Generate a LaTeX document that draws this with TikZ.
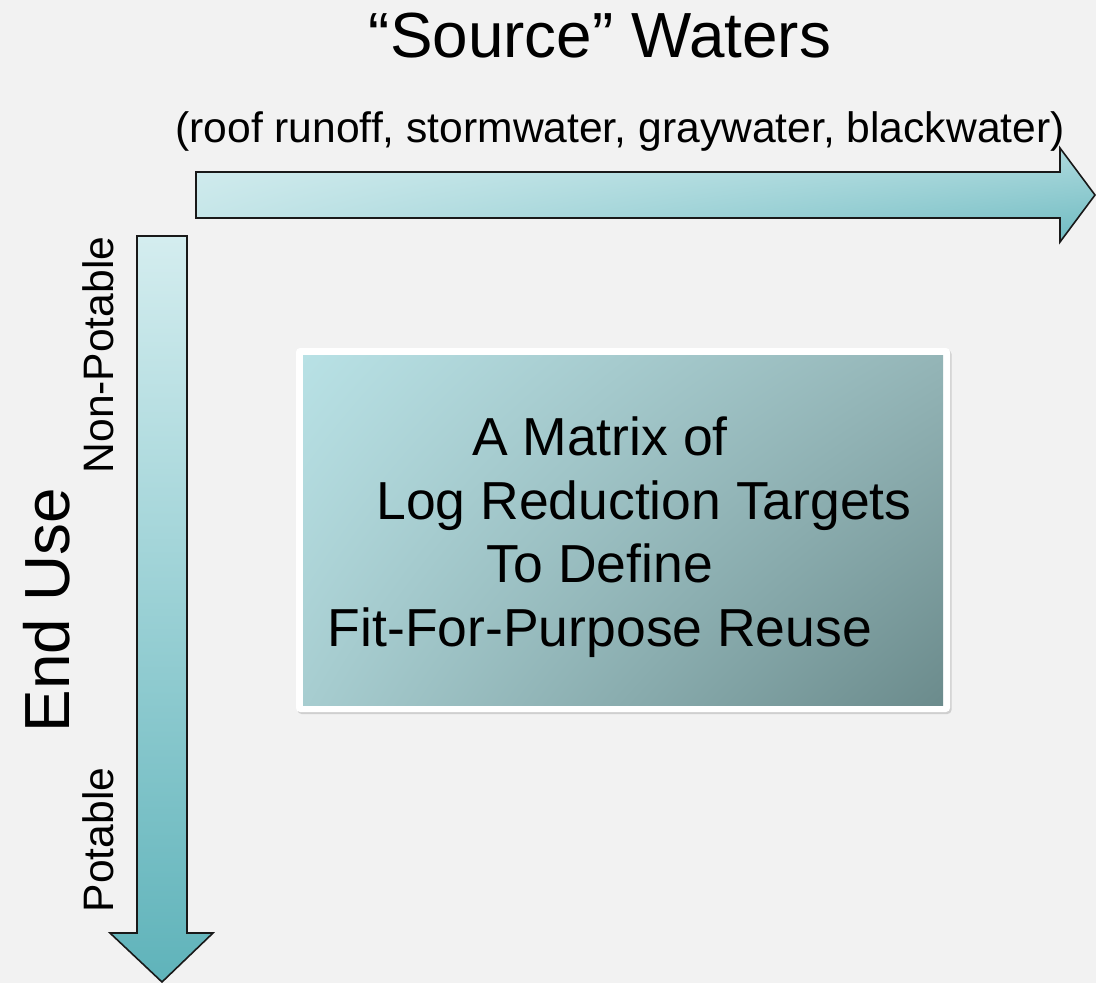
\documentclass[tikz,border=0pt]{standalone}
\usepackage{fontspec}
\setmainfont{Liberation Sans}
\usetikzlibrary{shadows,shadings}

\definecolor{pagebg}{HTML}{F2F2F2}
\definecolor{arrowlight}{HTML}{D4EDEF}
\definecolor{arrowmid}{HTML}{C0E3E6}
\definecolor{arrowdark}{HTML}{5FB3BA}
\definecolor{boxul}{HTML}{B8E1E5}
\definecolor{boxur}{HTML}{94B5B7}
\definecolor{boxll}{HTML}{A7CDD0}
\definecolor{boxlr}{HTML}{6B8B8C}

\begin{document}
\begin{tikzpicture}[x=1pt, y=-1pt]
                \tikzset{bigtext/.style={font=\fontsize{63.8}{70}\selectfont, inner sep=0pt},
                smalltext/.style={font=\fontsize{42.6}{48}\selectfont, inner sep=0pt},
                fatarrow/.style={draw=black!90, line width=1.6pt, line join=miter}}

                \fill[pagebg] (0,0) rectangle (1096,983);
                \useasboundingbox (0,0) rectangle (1096,983);

                \shade[fatarrow, upper left=arrowlight, lower left=arrowmid!95!arrowlight, upper right=arrowmid!80!arrowdark, lower right=arrowdark!85!arrowmid] (196,172) -- (1060,172) -- (1060,148) -- (1095,195) -- (1060,242) -- (1060,218) -- (196,218) -- cycle;

                \shade[fatarrow, top color=arrowlight, middle color=arrowmid, bottom color=arrowdark] (137,236) -- (187,236) -- (187,933) -- (213,933) -- (162,982) -- (110,933) -- (137,933) -- cycle;

                \fill[white, rounded corners=4pt, drop shadow={opacity=.3, shadow xshift=1.5pt, shadow yshift=-2pt}] (296,348) rectangle (950,712);
                \shade[upper left=boxul, upper right=boxur, lower left=boxll, lower right=boxlr] (303,355) rectangle (943,705);

                \node[bigtext, anchor=base] (title) at (600,57) {“Source” Waters};
                \node[smalltext, anchor=base] (subtitle) at (620,142) {(roof runoff, stormwater, graywater, blackwater)};

                \node[bigtext, anchor=base, rotate=90] (enduse) at (69,610) {End Use};
                \node[smalltext, anchor=base, rotate=90] (nonpot) at (113,355) {Non-Potable};
                \node[smalltext, anchor=base, rotate=90] (pot) at (113,840) {Potable};

                \node[align=center, inner sep=0pt, font=\fontsize{53.5}{63.5}\selectfont] (mtext) at (600,537) {A Matrix of\\\hspace*{88pt}Log Reduction Targets\\To Define\\Fit-For-Purpose Reuse};
            \end{tikzpicture}
\end{document}
